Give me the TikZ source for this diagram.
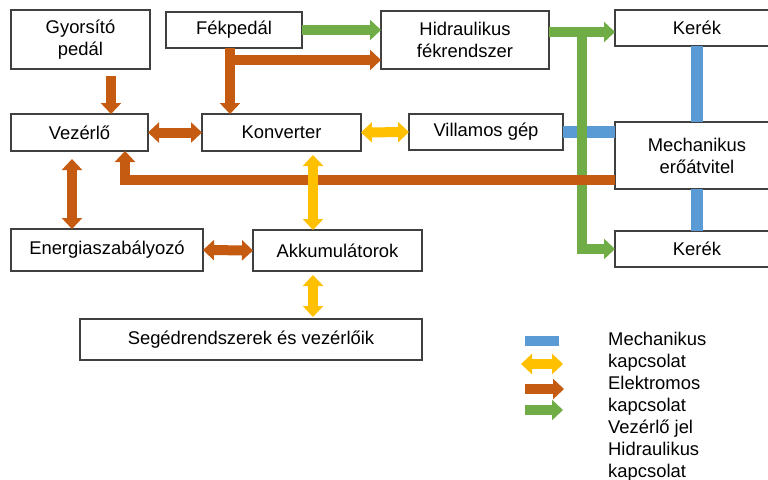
\documentclass[tikz,border=0pt]{standalone}
\usepackage{fontspec}
\setmainfont{Liberation Sans}
\usetikzlibrary{arrows.meta}
\definecolor{mechszin}{HTML}{5B9BD5}
\definecolor{elszin}{HTML}{FFC000}
\definecolor{vezszin}{HTML}{C55A11}
\definecolor{hidszin}{HTML}{70AD47}
\tikzset{
  blokk/.style={draw=black!75, line width=1.2pt, outer sep=0pt, inner sep=0pt, align=center, font=\fontsize{18.4}{22}\selectfont},
  vastag/.style={line width=10pt, >={Triangle[length=11pt,width=20pt]}},
  mechkapcs/.style={line width=12pt, draw=mechszin},
  elkapcs/.style={vastag, draw=elszin},
  vezjel/.style={vastag, draw=vezszin},
  hidkapcs/.style={vastag, draw=hidszin}
}
\newcommand{\doboz}[6]{\node[blokk, minimum width={#4pt-#2pt}, minimum height={#5pt-#3pt}] (#1) at ({(#2+#4)/2},{(#3+#5)/2}) {#6};}

\begin{document}
\begin{tikzpicture}[x=1pt, y=-1pt]
    \useasboundingbox (0,0) rectangle (768,479);
    \clip (0,0) rectangle (768,479);

    \doboz{gyors}{11}{10}{150}{69}{Gyorsító\\pedál}
    \doboz{fek}{166}{12}{302}{48}{Fékpedál}
    \doboz{hidr}{381}{11}{549}{69}{Hidraulikus\\fékrendszer}
    \doboz{kerekA}{615}{10}{779}{46}{Kerék}
    \doboz{vez}{11}{114}{148}{151}{Vezérlő}
    \doboz{konv}{202}{114}{361}{151}{Konverter}
    \doboz{vill}{409}{114}{563}{150}{Villamos gép}
    \doboz{mech}{615}{122}{779}{189}{Mechanikus\\erőátvitel}
    \doboz{kerekB}{615}{231}{779}{267}{Kerék}
    \doboz{energ}{11}{229}{203}{271}{Energiaszabályozó}
    \doboz{akku}{253}{230}{422}{271}{Akkumulátorok}
    \doboz{seged}{80}{319}{422}{360}{Segédrendszerek és vezérlőik}

    \coordinate (gyx) at (111,0);
    \coordinate (fekkanyar) at (230,60);
    \coordinate (elag) at (582,32);
    \coordinate (visszax) at (125,180);
    \coordinate (enx) at (72,0);
    \coordinate (akkx) at (313,0);

    % mechanikus
    \draw[mechkapcs] (kerekA.south) -- (mech.north);
    \draw[mechkapcs] (mech.south) -- (kerekB.north);
    \draw[mechkapcs] (vill.east) -- (mech.west |- vill.east);

    % hidraulika
    \draw[hidkapcs,->] (fek.east) -- (hidr.west |- fek.east);
    \draw[hidkapcs,->] (hidr.east |- elag) -- (kerekA.west |- elag);
    \draw[hidkapcs,->] ([yshift=5pt]elag) -- (elag |- kerekB.west) -- (kerekB.west);

    % vezerlo jelek
    \draw[vezjel,->,shorten <=7pt] (gyors.south -| gyx) -- (vez.north -| gyx);
    \draw[vezjel,->] (fek.south -| fekkanyar) -- (konv.north -| fekkanyar);
    \draw[vezjel,->] ([xshift=-5pt]fekkanyar) -- (hidr.west |- fekkanyar);
    \draw[vezjel,<->] (vez.east) -- (konv.west);
    \draw[vezjel,->] (mech.west |- visszax) -- (visszax) -- (visszax |- vez.south);
    \draw[vezjel,<->,shorten <=8pt] (vez.south -| enx) -- (energ.north -| enx);
    \draw[vezjel,<->] (energ.east) -- (akku.west);

    % elektromos
    \draw[elkapcs,<->] (konv.east) -- (vill.west);
    \draw[elkapcs,<->,shorten <=4pt] (konv.south -| akkx) -- (akku.north -| akkx);
    \draw[elkapcs,<->,shorten <=4pt,shorten >=2pt] (akku.south -| akkx) -- (seged.north -| akkx);

    % jelmagyarazat
    \fill[mechszin] (525,336) rectangle (559,346);
    \coordinate (elA) at (521,364);
    \coordinate (elB) at (563,364);
    \coordinate (vezA) at (525,389);
    \coordinate (vezB) at (564,389);
    \coordinate (hidA) at (525,410);
    \coordinate (hidB) at (563,410);
    \draw[elkapcs,<->] (elA) -- (elB);
    \draw[vezjel,->] (vezA) -- (vezB);
    \draw[hidkapcs,->] (hidA) -- (hidB);
    \node[anchor=north west, align=left, inner sep=0pt, font=\fontsize{18.4}{22}\selectfont] (jelmagy) at (608,332) {Mechanikus\\kapcsolat\\Elektromos\\kapcsolat\\Vezérlő jel\\Hidraulikus\\kapcsolat};

\end{tikzpicture}
\end{document}
